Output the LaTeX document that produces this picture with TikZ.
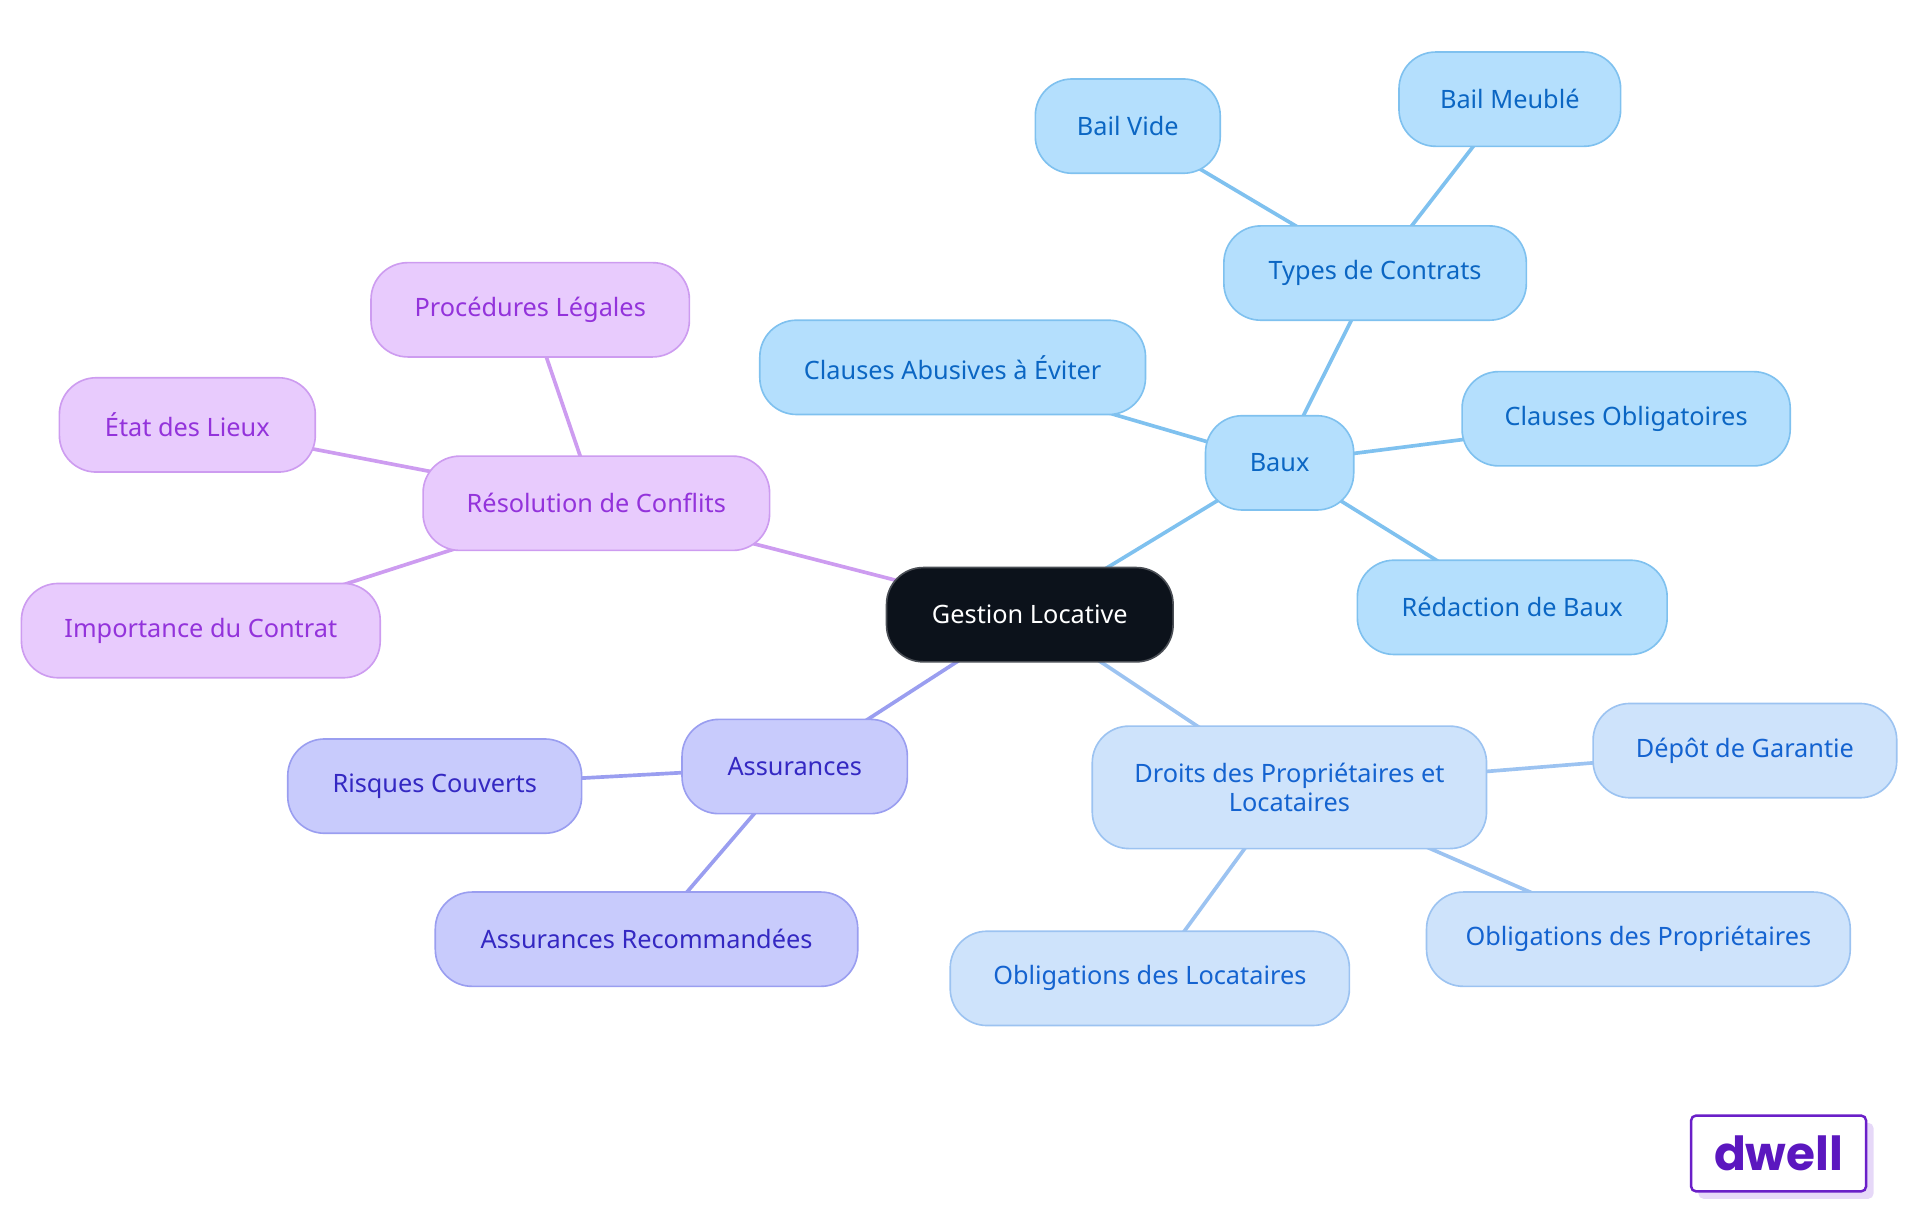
\documentclass[tikz,border=0pt]{standalone}
\usepackage{fontspec}
\setmainfont{Noto Sans}
\newfontfamily\logofont{Poppins}
\pgfdeclarelayer{bg}
\pgfsetlayers{bg,main}
\definecolor{rootfill}{HTML}{0C121B}
\definecolor{rootdraw}{HTML}{4A4E55}
\definecolor{bfill}{HTML}{B4DFFD}
\definecolor{bdraw}{HTML}{7FC1EF}
\definecolor{btext}{HTML}{0B66C3}
\definecolor{dfill}{HTML}{CEE3FB}
\definecolor{ddraw}{HTML}{9CC3F1}
\definecolor{dtext}{HTML}{1463D0}
\definecolor{afill}{HTML}{C8CBFC}
\definecolor{adraw}{HTML}{9A9EF0}
\definecolor{atext}{HTML}{3428C2}
\definecolor{rfill}{HTML}{E8CBFD}
\definecolor{rdraw}{HTML}{CD9CF0}
\definecolor{rtext}{HTML}{9333DB}
\definecolor{logotext}{HTML}{5B17BF}
\definecolor{logodraw}{HTML}{6A1FC8}
\definecolor{logoshadow}{HTML}{E6D8F8}
\begin{document}
\begin{tikzpicture}[x=0.6pt,y=-0.6pt,
  box/.style={rounded corners=18pt, line width=0.8pt, minimum height=46.2pt,
    inner xsep=2pt, align=center, font=\fontsize{12.4}{14.4}\selectfont},
  rootbox/.style={box, fill=rootfill, draw=rootdraw, text=white},
  bbox/.style={box, fill=bfill, draw=bdraw, text=btext},
  dbox/.style={box, fill=dfill, draw=ddraw, text=dtext},
  abox/.style={box, fill=afill, draw=adraw, text=atext},
  rbox/.style={box, fill=rfill, draw=rdraw, text=rtext},
  bedge/.style={draw=bdraw, line width=1.8pt},
  dedge/.style={draw=ddraw, line width=1.8pt},
  aedge/.style={draw=adraw, line width=1.8pt},
  redge/.style={draw=rdraw, line width=1.8pt},
  w/.style={minimum width=#1*0.6pt}
]
\path[use as bounding box] (0,0) rectangle (1568,992);

\node[rootbox, w=234] (root) at (841,502) {Gestion Locative};

\node[bbox, w=121] (baux) at (1045,378) {Baux};
\node[bbox, w=247] (types) at (1123,223) {Types de Contrats};
\node[bbox, w=151] (vide) at (921,103) {Bail Vide};
\node[bbox, w=181] (meuble) at (1233,81) {Bail Meublé};
\node[bbox, w=315] (abus) at (778,300) {Clauses Abusives à Éviter};
\node[bbox, w=268] (oblig) at (1328,342) {Clauses Obligatoires};
\node[bbox, w=253] (redac) at (1235,496) {Rédaction de Baux};

\node[dbox, w=322, minimum height=60pt] (droits) at (1053,643) {Droits des Propriétaires et\\Locataires};
\node[dbox, w=248] (depot) at (1425,613) {Dépôt de Garantie};
\node[dbox, w=346] (oprop) at (1338,767) {Obligations des Propriétaires};
\node[dbox, w=326] (oloc) at (939,799) {Obligations des Locataires};

\node[abox, w=184] (assur) at (649,626) {Assurances};
\node[abox, w=240] (risq) at (355,642) {Risques Couverts};
\node[abox, w=345] (arec) at (528,767) {Assurances Recommandées};

\node[rbox, w=283] (reso) at (487,411) {Résolution de Conflits};
\node[rbox, w=260] (proc) at (433,253) {Procédures Légales};
\node[rbox, w=209] (etat) at (153,347) {État des Lieux};
\node[rbox, w=293] (impo) at (164,515) {Importance du Contrat};

\begin{pgfonlayer}{bg}
\path[bedge] (root.center) -- (baux.center);
\path[bedge] (baux.center) -- (types.center);
\path[bedge] (types.center) -- (vide.center);
\path[bedge] (types.center) -- (meuble.center);
\path[bedge] (baux.center) -- (abus.center);
\path[bedge] (baux.center) -- (oblig.center);
\path[bedge] (baux.center) -- (redac.center);
\path[dedge] (root.center) -- (droits.center);
\path[dedge] (droits.center) -- (depot.center);
\path[dedge] (droits.center) -- (oprop.center);
\path[dedge] (droits.center) -- (oloc.center);
\path[aedge] (root.center) -- (assur.center);
\path[aedge] (assur.center) -- (risq.center);
\path[aedge] (assur.center) -- (arec.center);
\path[redge] (root.center) -- (reso.center);
\path[redge] (reso.center) -- (proc.center);
\path[redge] (reso.center) -- (etat.center);
\path[redge] (reso.center) -- (impo.center);
\end{pgfonlayer}

% logo
\fill[logoshadow, rounded corners=2.5pt] (1387,917) rectangle (1530,979);
\node[draw=logodraw, fill=white, line width=1.2pt, rounded corners=2.5pt,
  minimum width=143*0.6pt, minimum height=62*0.6pt, inner sep=0pt,
  text=logotext, font=\logofont\bfseries\fontsize{23}{26}\selectfont] (logo) at (1452.5,942) {dwell};
\end{tikzpicture}
\end{document}
